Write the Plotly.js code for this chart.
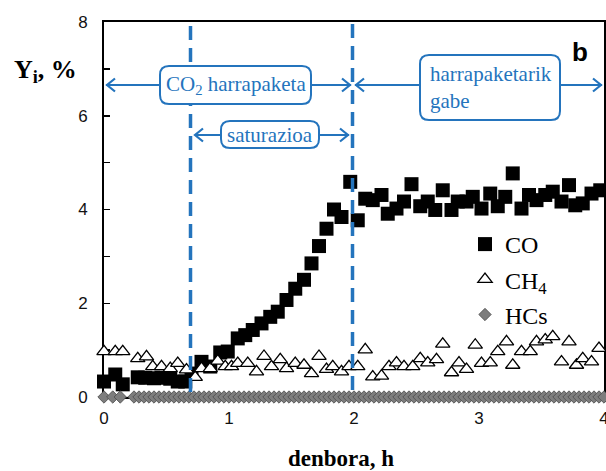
<!DOCTYPE html>
<html>
<head>
<meta charset="utf-8">
<script src="https://cdn.plot.ly/plotly-3.0.1.min.js"></script>
<style>html,body{margin:0;padding:0;background:#fff;}#chart{width:606px;height:471px;}</style>
</head>
<body>
<div id="chart"></div>
<script>
// ---- Data ----
const coTime = [0.00,0.09,0.15,0.27,0.33,0.40,0.46,0.53,0.59,0.65,0.70,0.78,0.85,0.93,0.99,1.07,1.13,1.19,1.26,1.33,1.39,1.46,1.53,1.60,1.66,1.72,1.78,1.84,1.90,1.97,2.03,2.09,2.15,2.22,2.27,2.34,2.40,2.46,2.53,2.59,2.65,2.71,2.78,2.83,2.90,2.95,3.02,3.09,3.15,3.21,3.27,3.34,3.40,3.46,3.53,3.59,3.66,3.72,3.77,3.83,3.90,3.97];
const coVal = [0.33,0.48,0.27,0.42,0.41,0.40,0.41,0.39,0.33,0.33,0.50,0.75,0.65,0.95,0.97,1.25,1.32,1.43,1.57,1.71,1.82,2.07,2.31,2.50,2.85,3.22,3.59,4.00,3.84,4.59,3.77,4.23,4.20,4.31,3.91,4.02,4.17,4.54,4.07,4.17,3.99,4.41,3.99,4.17,4.17,4.27,4.02,4.34,4.07,4.27,4.77,4.02,4.31,4.20,4.31,4.38,4.17,4.52,4.09,4.13,4.34,4.41];

const ch4Time = [0.00,0.09,0.15,0.27,0.34,0.39,0.46,0.53,0.59,0.66,0.73,0.78,0.85,0.91,0.97,1.02,1.07,1.15,1.22,1.28,1.34,1.41,1.46,1.53,1.60,1.66,1.72,1.78,1.83,1.90,1.96,2.03,2.09,2.15,2.22,2.28,2.34,2.40,2.47,2.53,2.59,2.66,2.71,2.78,2.84,2.90,2.97,3.02,3.09,3.15,3.22,3.27,3.34,3.41,3.46,3.53,3.59,3.66,3.72,3.78,3.83,3.90,3.96];
const ch4Val = [0.97,0.97,0.97,0.82,0.86,0.65,0.65,0.61,0.72,0.58,0.42,0.61,0.61,0.77,0.65,0.65,0.72,0.72,0.54,0.87,0.65,0.80,0.61,0.72,0.68,0.50,0.87,0.59,0.65,0.54,0.65,0.65,1.01,0.43,0.45,0.65,0.73,0.65,0.65,0.82,0.73,0.80,1.13,0.52,0.73,0.59,1.11,0.72,0.73,0.97,1.18,0.68,0.97,0.97,1.18,1.22,1.29,0.75,1.18,0.68,0.82,0.75,1.04];

const hcsTime = [0.00,0.07,0.13,0.24,0.28,0.32,0.36,0.40,0.44,0.48,0.52,0.56,0.60,0.64,0.68,0.72,0.76,0.80,0.84,0.88,0.92,0.96,1.00,1.04,1.08,1.12,1.16,1.20,1.24,1.28,1.32,1.36,1.40,1.44,1.48,1.52,1.56,1.60,1.64,1.68,1.72,1.76,1.80,1.84,1.88,1.92,1.96,2.00,2.04,2.08,2.12,2.16,2.20,2.24,2.28,2.32,2.36,2.40,2.44,2.48,2.52,2.56,2.60,2.64,2.68,2.72,2.76,2.80,2.84,2.88,2.92,2.96,3.00,3.04,3.08,3.12,3.16,3.20,3.24,3.28,3.32,3.36,3.40,3.44,3.48,3.52,3.56,3.60,3.64,3.68,3.72,3.76,3.80,3.84,3.88,3.92,3.96,4.00];
const hcsVal = [0,0,0,0,0,0,0,0,0,0,0,0,0,0,0,0,0,0,0,0,0,0,0,0,0,0,0,0,0,0,0,0,0,0,0,0,0,0,0,0,0,0,0,0,0,0,0,0,0,0,0,0,0,0,0,0,0,0,0,0,0,0,0,0,0,0,0,0,0,0,0,0,0,0,0,0,0,0,0,0,0,0,0,0,0,0,0,0,0,0,0,0,0,0,0,0,0,0];

const seriesNames = ['CO', 'CH<sub>4</sub>', 'HCs'];
const xTicks = [0, 1, 2, 3, 4];
const yTicks = [0, 2, 4, 6, 8];

// ---- Layout helpers (pixel -> paper) ----
const L = 104, R = 604, T = 22, B = 397;
const PX = p => (p - L) / (R - L);
const PY = p => (B - p) / (B - T);
const BLUE = '#2474bd';
const SERIF = 'Liberation Serif, Times New Roman, serif';
const SANS = 'Liberation Sans, Arial, sans-serif';

function rrect(x0, y0, x1, y1, r) {
  const a = PX(x0), b = PX(x1), c = PY(y0), d = PY(y1);
  const rx = r / (R - L), ry = r / (B - T);
  return `M${a+rx},${c} L${b-rx},${c} Q${b},${c} ${b},${c-ry} L${b},${d+ry} Q${b},${d} ${b-rx},${d} L${a+rx},${d} Q${a},${d} ${a},${d+ry} L${a},${c-ry} Q${a},${c} ${a+rx},${c} Z`;
}
function vline(px, py0, py1, dash, w) {
  return {type:'line', xref:'paper', yref:'paper', x0:PX(px), x1:PX(px), y0:PY(py0), y1:PY(py1),
          line:{color:BLUE, width:w, dash:dash}, layer:'above'};
}
function hline(px0, px1, py) {
  return {type:'line', xref:'paper', yref:'paper', x0:PX(px0), x1:PX(px1), y0:PY(py), y1:PY(py),
          line:{color:BLUE, width:2}, layer:'above'};
}
function box(x0, y0, x1, y1) {
  return {type:'path', xref:'paper', yref:'paper', path:rrect(x0, y0, x1, y1, 9),
          fillcolor:'#ffffff', line:{color:BLUE, width:2}, layer:'above'};
}
// open chevron arrowhead; dir = +1 points left (tail to the right), -1 points right
function head(px, py, dir) {
  const dx = 8 * dir, dy = 6.5;
  const p = `M${PX(px+dx)},${PY(py-dy)} L${PX(px)},${PY(py)} L${PX(px+dx)},${PY(py+dy)}`;
  return {type:'path', xref:'paper', yref:'paper', path:p, fillcolor:'rgba(0,0,0,0)',
          line:{color:BLUE, width:2.2}, layer:'above'};
}

const traces = [
  {x: coTime, y: coVal, name: seriesNames[0], type:'scatter', mode:'markers', legendgroup:'a', cliponaxis:false,
   marker:{symbol:'square', size:14, color:'#000000', line:{width:0}}},
  {x: ch4Time, y: ch4Val, name: seriesNames[1], type:'scatter', mode:'markers', legendgroup:'b', cliponaxis:false,
   marker:{symbol:'triangle-up', size:12.5, color:'#ffffff', line:{color:'#000000', width:1.3}}},
  {x: hcsTime, y: hcsVal, name: seriesNames[2], type:'scatter', mode:'markers', legendgroup:'c', cliponaxis:false,
   marker:{symbol:'diamond', size:9.5, color:'#7d7d7d', line:{color:'#4a4a4a', width:0.8}}}
];

const layout = {
  width: 606, height: 471,
  margin: {l: L, r: 606 - R, t: T, b: 471 - B},
  paper_bgcolor: '#ffffff', plot_bgcolor: '#ffffff',
  showlegend: true,
  legend: {x: PX(465), y: PY(222), xanchor:'left', yanchor:'top', bgcolor:'rgba(0,0,0,0)',
           font:{family:SERIF, size:24, color:'#000'}, tracegroupgap: 1, itemwidth: 30},
  xaxis: {range:[0,4], tickvals:xTicks, ticktext:xTicks.map(String), showgrid:false, zeroline:false,
          showline:true, mirror:true, linecolor:'#000', linewidth:2, ticks:'', ticklabelstandoff:5,
          ticklabeloverflow:'allow', layer:'below traces',
          tickfont:{family:SANS, size:17, color:'#111'}},
  yaxis: {range:[0,8], tickvals:yTicks, ticktext:yTicks.map(String), showgrid:false, zeroline:false,
          showline:true, mirror:true, linecolor:'#000', linewidth:2, ticks:'inside', ticklen:6, tickwidth:1.5,
          tickcolor:'#000', ticklabelstandoff:11, layer:'below traces',
          minor:{dtick:1, ticks:'inside', ticklen:6, tickwidth:1.5, tickcolor:'#000'},
          tickfont:{family:SANS, size:17, color:'#111'}},
  shapes: [
    vline(190.5, 26, 397, '14px,8px', 3.5),
    vline(352.5, 24, 397, '14px,8px', 3.5),
    hline(106, 351, 85),
    hline(355, 602, 85),
    hline(195, 349, 135),
    box(160, 66, 311, 104),
    box(420, 55, 560, 120),
    box(221, 121, 319, 148),
    head(107, 85, 1), head(350, 85, -1),
    head(356, 85, 1), head(601, 85, -1),
    head(195, 135, 1), head(348, 135, -1)
  ],
  annotations: [
    {xref:'paper', yref:'paper', x:PX(235.5), y:PY(85), text:'CO<sub>2</sub> harrapaketa', showarrow:false,
     xanchor:'center', yanchor:'middle', font:{family:SERIF, size:21, color:BLUE}},
    {xref:'paper', yref:'paper', x:PX(428), y:PY(87.5), text:'harrapaketarik<br>gabe', showarrow:false, align:'left',
     xanchor:'left', yanchor:'middle', font:{family:SERIF, size:21, color:BLUE}},
    {xref:'paper', yref:'paper', x:PX(270), y:PY(134.5), text:'saturazioa', showarrow:false,
     xanchor:'center', yanchor:'middle', font:{family:SERIF, size:21, color:BLUE}},
    {xref:'paper', yref:'paper', x:PX(580), y:PY(52), text:'<b>b</b>', showarrow:false,
     xanchor:'center', yanchor:'middle', font:{family:SANS, size:26, color:'#000'}},
    {xref:'paper', yref:'paper', x:PX(45), y:PY(71), text:'<b>Y<sub>i</sub>, %</b>', showarrow:false,
     xanchor:'center', yanchor:'middle', font:{family:SERIF, size:26, color:'#000'}},
    {xref:'paper', yref:'paper', x:PX(341), y:PY(458), text:'<b>denbora, h</b>', showarrow:false,
     xanchor:'center', yanchor:'middle', font:{family:SERIF, size:23, color:'#000'}}
  ]
};

Plotly.newPlot('chart', traces, layout, {displayModeBar:false, staticPlot:true});
</script>
</body>
</html>
